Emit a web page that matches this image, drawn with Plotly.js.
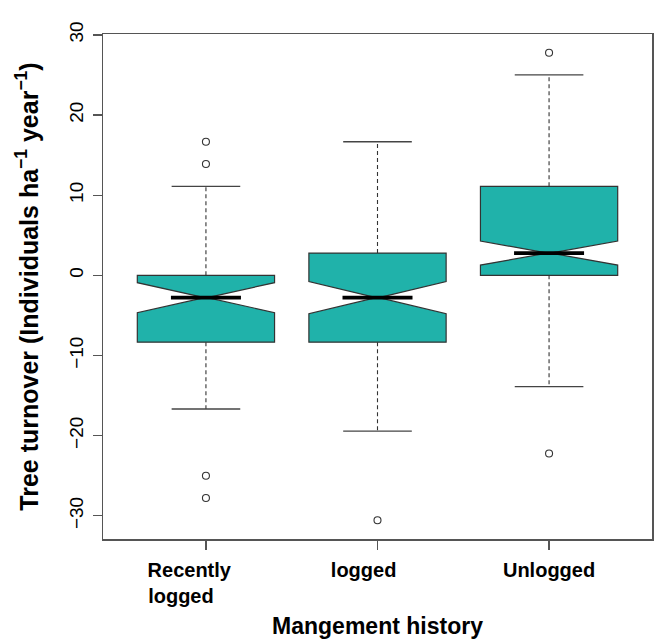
<!DOCTYPE html>
<html>
<head>
<meta charset="utf-8">
<script src="https://cdn.plot.ly/plotly-3.0.1.min.js"></script>
<style>html,body{margin:0;padding:0;background:#fff;}#chart{width:654px;height:642px;}</style>
</head>
<body>
<div id="chart"></div>
<script>
// ---- data ----
const categories = ["Recently logged", "logged", "Unlogged"];
const tickLabels = ["Recently<br>logged", "logged", "Unlogged"];
const q1Values = [-8.33, -8.33, 0.0];
const medianValues = [-2.78, -2.78, 2.78];
const q3Values = [0.0, 2.78, 11.11];
const lowerWhisker = [-16.67, -19.44, -13.89];
const upperWhisker = [11.11, 16.67, 25.0];
const notchSpan = [1.87, 2.0, 1.5];
const outlierGroup = ["Recently logged", "Recently logged", "Recently logged", "Recently logged", "logged", "Unlogged", "Unlogged"];
const outlierValues = [16.67, 13.89, -25.0, -27.78, -30.56, 27.78, -22.22];
const yTickValues = [-30, -20, -10, 0, 10, 20, 30];

// ---- drawing ----
const pos = categories.map((c, i) => i + 1);
const BOX_W = 0.8, NOTCH_W = 0.49, CAP_HALF = 0.2;
const medHalf = BOX_W / 2 * (1 - NOTCH_W);

const boxTrace = {
  type: 'box', x: pos, q1: q1Values, median: medianValues, q3: q3Values,
  lowerfence: q1Values, upperfence: q3Values,
  notched: true, notchspan: notchSpan, notchwidth: NOTCH_W,
  width: BOX_W, whiskerwidth: 0, boxpoints: false,
  fillcolor: '#20B2AA', line: {color: '#333333', width: 1.2},
  hoverinfo: 'skip', showlegend: false
};

const wx = [], wy = [], cx = [], cy = [], mx = [], my = [];
pos.forEach((p, i) => {
  wx.push(p, p, null, p, p, null);
  wy.push(q3Values[i], upperWhisker[i], null, q1Values[i], lowerWhisker[i], null);
  cx.push(p - CAP_HALF, p + CAP_HALF, null, p - CAP_HALF, p + CAP_HALF, null);
  cy.push(upperWhisker[i], upperWhisker[i], null, lowerWhisker[i], lowerWhisker[i], null);
  mx.push(p - medHalf, p + medHalf, null);
  my.push(medianValues[i], medianValues[i], null);
});

const whiskerTrace = {type: 'scatter', mode: 'lines', x: wx, y: wy,
  line: {color: '#333333', width: 1.1, dash: '4px,3px'}, hoverinfo: 'skip', showlegend: false};
const capTrace = {type: 'scatter', mode: 'lines', x: cx, y: cy,
  line: {color: '#444444', width: 1.3}, hoverinfo: 'skip', showlegend: false};
const medianTrace = {type: 'scatter', mode: 'lines', x: mx, y: my,
  line: {color: '#000000', width: 3.8}, hoverinfo: 'skip', showlegend: false};
const outlierTrace = {type: 'scatter', mode: 'markers',
  x: outlierGroup.map(g => categories.indexOf(g) + 1), y: outlierValues,
  marker: {symbol: 'circle-open', size: 7, color: '#333333', line: {width: 1.1}},
  hoverinfo: 'skip', showlegend: false};

const labelPad = [[6, 9], [5], [0]];
const nb = n => '&nbsp;'.repeat(n);
const ticktext = tickLabels.map((t, i) => t.split('<br>').map((line, j) => line + nb(labelPad[i][j] || 0)).join('<br>'));

const font = 'Liberation Sans, Arial, sans-serif';
const layout = {
  width: 654, height: 642,
  margin: {l: 103, r: 2, t: 34, b: 103},
  paper_bgcolor: '#ffffff', plot_bgcolor: '#ffffff',
  font: {family: font, color: '#000000'},
  showlegend: false,
  xaxis: {
    range: [0.4, 3.6], tickvals: pos, ticktext: ticktext,
    showgrid: false, zeroline: false,
    showline: true, mirror: true, linecolor: '#555555', linewidth: 1.5,
    ticks: 'outside', ticklen: 9, tickcolor: '#555555', tickwidth: 1.3,
    ticklabelstandoff: 3,
    tickfont: {size: 20, weight: 'bold', family: font},
    title: {text: '<b>Mangement history</b>', font: {size: 23, family: font}, standoff: 12}
  },
  yaxis: {
    range: [-32.89, 30.11], tickvals: yTickValues,
    showgrid: false, zeroline: false,
    showline: true, mirror: true, linecolor: '#555555', linewidth: 1.5,
    ticks: 'outside', ticklen: 9, tickcolor: '#555555', tickwidth: 1.3,
    tickangle: -90, ticklabelstandoff: 2,
    tickfont: {size: 19, family: font},
    title: {text: '<b>Tree turnover (Individuals ha<sup>−1</sup> year<sup>−1</sup>)</b>', font: {size: 25, family: font}, standoff: 20}
  }
};

Plotly.newPlot('chart', [boxTrace, whiskerTrace, capTrace, medianTrace, outlierTrace], layout, {displayModeBar: false, staticPlot: true});
</script>
</body>
</html>
